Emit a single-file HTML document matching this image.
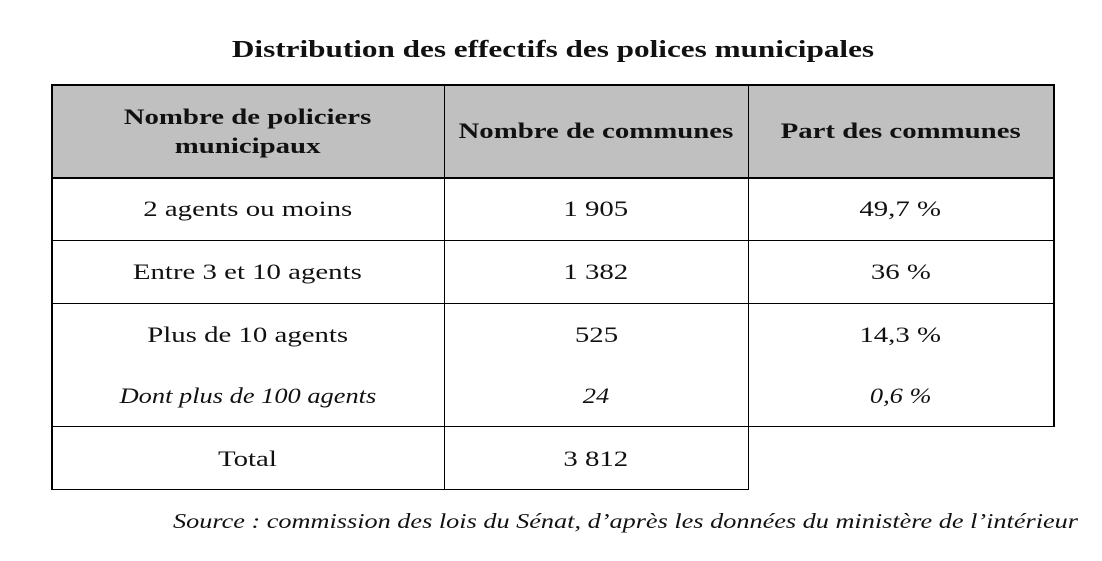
<!DOCTYPE html>
<html><head><meta charset="utf-8"><style>
body{margin:0;width:1102px;height:561px;background:#fff;position:relative;overflow:hidden;font-family:"Liberation Serif",serif;color:#111}
.a{position:absolute}
.h{position:absolute;background:#000}
.t{position:absolute;text-align:center;font-size:22px;line-height:24px}
.t span{display:inline-block;transform:scaleX(1.31);transform-origin:center}
.b{font-weight:bold}
.i{font-style:italic}
.i span{transform:scaleX(1.2)}
</style></head><body>
<div class="a b" style="left:0;width:1106px;top:37px;text-align:center;font-size:24px"><span style="display:inline-block;transform:scaleX(1.3)">Distribution des effectifs des polices municipales</span></div>
<div class="a" style="left:51px;top:85px;width:1002px;height:93px;background:#c0c0c0"></div>
<div class="h" style="left:51px;top:84px;width:1003px;height:2px"></div>
<div class="h" style="left:51px;top:177px;width:1003px;height:1.5px"></div>
<div class="h" style="left:51px;top:240px;width:1003px;height:1px"></div>
<div class="h" style="left:51px;top:303px;width:1003px;height:1px"></div>
<div class="h" style="left:51px;top:426px;width:1003px;height:1px"></div>
<div class="h" style="left:51px;top:489px;width:698px;height:1px"></div>
<div class="h" style="left:51px;top:84px;width:1.5px;height:406px"></div>
<div class="h" style="left:444px;top:84px;width:1px;height:406px"></div>
<div class="h" style="left:748px;top:84px;width:1px;height:406px"></div>
<div class="h" style="left:1053px;top:84px;width:1.5px;height:343px"></div>
<div class="t b" style="left:51px;width:393px;top:102px;line-height:29px"><span>Nombre de policiers</span><br><span>municipaux</span></div>
<div class="t b" style="left:444px;width:304px;top:119px"><span>Nombre de communes</span></div>
<div class="t b" style="left:748px;width:305px;top:119px"><span>Part des communes</span></div>
<div class="t" style="left:51px;width:393px;top:197px"><span>2 agents ou moins</span></div>
<div class="t" style="left:444px;width:304px;top:197px"><span>1 905</span></div>
<div class="t" style="left:748px;width:305px;top:197px"><span>49,7 %</span></div>
<div class="t" style="left:51px;width:393px;top:260px"><span>Entre 3 et 10 agents</span></div>
<div class="t" style="left:444px;width:304px;top:260px"><span>1 382</span></div>
<div class="t" style="left:748px;width:305px;top:260px"><span>36 %</span></div>
<div class="t" style="left:51px;width:393px;top:323px"><span>Plus de 10 agents</span></div>
<div class="t" style="left:444px;width:304px;top:323px"><span>525</span></div>
<div class="t" style="left:748px;width:305px;top:323px"><span>14,3 %</span></div>
<div class="t i" style="left:51px;width:393px;top:384px"><span>Dont plus de 100 agents</span></div>
<div class="t i" style="left:444px;width:304px;top:384px"><span>24</span></div>
<div class="t i" style="left:748px;width:305px;top:384px"><span>0,6 %</span></div>
<div class="t" style="left:51px;width:393px;top:447px"><span>Total</span></div>
<div class="t" style="left:444px;width:304px;top:447px"><span>3 812</span></div>
<div class="a i" style="right:24px;top:509px;font-size:21px;white-space:nowrap"><span style="display:inline-block;transform:scaleX(1.25);transform-origin:right">Source : commission des lois du Sénat, d’après les données du ministère de l’intérieur</span></div>
</body></html>
